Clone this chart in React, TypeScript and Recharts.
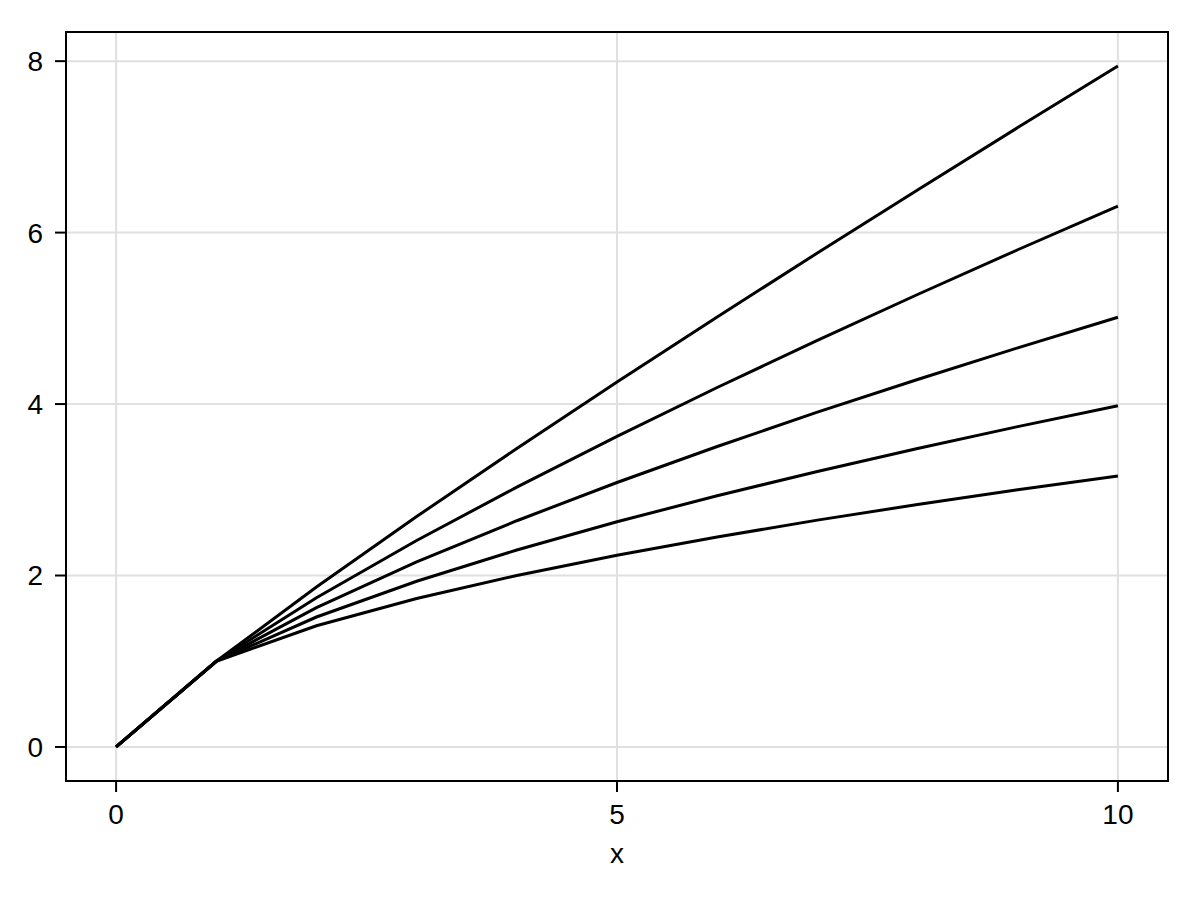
import React from 'react';
import { LineChart, Line, XAxis, YAxis, CartesianGrid } from 'recharts';

const xs = [0, 1, 2, 3, 4, 5, 6, 7, 8, 9, 10];
const curveA = [0, 1, 1.414, 1.732, 2.0, 2.236, 2.449, 2.646, 2.828, 3.0, 3.162];
const curveB = [0, 1, 1.516, 1.933, 2.297, 2.627, 2.93, 3.214, 3.482, 3.737, 3.981];
const curveC = [0, 1, 1.625, 2.158, 2.639, 3.085, 3.505, 3.905, 4.287, 4.656, 5.012];
const curveD = [0, 1, 1.741, 2.408, 3.031, 3.624, 4.193, 4.743, 5.278, 5.8, 6.31];
const curveE = [0, 1, 1.866, 2.688, 3.482, 4.257, 5.016, 5.762, 6.498, 7.225, 7.943];
const xTicks = [0, 5, 10];
const yTicks = [0, 2, 4, 6, 8];

const seriesKeys = ['a', 'b', 'c', 'd', 'e'];

const data = xs.map((x, i) => ({
  x,
  a: curveA[i],
  b: curveB[i],
  c: curveC[i],
  d: curveD[i],
  e: curveE[i],
}));

const FONT = '"Liberation Sans", Arial, sans-serif';
const TICK_SIZE = 11;
const TICK_GAP = 12;

// tick label plus its little outside tick mark
function XTick(props: any) {
  const { x, y, payload } = props;
  const top = y - TICK_GAP - TICK_SIZE;
  return (
    <g>
      <line x1={x} x2={x} y1={top} y2={top + TICK_SIZE} stroke="#000" strokeWidth={2} />
      <text x={x} y={y} dy="0.71em" textAnchor="middle" fontFamily={FONT} fontSize={28} fill="#000">
        {payload.value}
      </text>
    </g>
  );
}

function YTick(props: any) {
  const { x, y, payload } = props;
  const right = x + TICK_GAP + TICK_SIZE;
  return (
    <g>
      <line x1={right - TICK_SIZE} x2={right} y1={y} y2={y} stroke="#000" strokeWidth={2} />
      <text x={x} y={y} dy="0.355em" textAnchor="end" fontFamily={FONT} fontSize={28} fill="#000">
        {payload.value}
      </text>
    </g>
  );
}

export default function App() {
  return (
    <div style={{ position: 'absolute', left: 0, top: 0, width: 1200, height: 900, background: '#fff' }}>
      <LineChart width={1200} height={900} data={data} margin={{ top: 32, right: 32, left: 0, bottom: 0 }}>
        <CartesianGrid
          stroke="#e0e0e0"
          strokeWidth={2}
          horizontalValues={yTicks}
          verticalValues={xTicks}
        />
        <XAxis
          dataKey="x"
          type="number"
          domain={[-0.5, 10.5]}
          ticks={xTicks}
          height={119}
          stroke="#000"
          strokeWidth={2}
          tickSize={TICK_SIZE}
          tickMargin={TICK_GAP}
          tick={<XTick />}
          tickLine={false}
          axisLine
          label={{ value: 'x', position: 'insideBottom', offset: 37, style: { fontFamily: FONT, fontSize: 28, fill: '#000' } }}
        />
        <YAxis
          type="number"
          domain={[-0.397, 8.34]}
          ticks={yTicks}
          width={66}
          stroke="#000"
          strokeWidth={2}
          tickSize={TICK_SIZE}
          tickMargin={TICK_GAP}
          tick={<YTick />}
          tickLine={false}
          axisLine
        />
        {seriesKeys.map((k) => (
          <Line key={k} dataKey={k} stroke="#000" strokeWidth={3} dot={false} isAnimationActive={false} type="linear" />
        ))}
      </LineChart>
      {/* frame around the plot area (top/right spines) */}
      <div
        style={{
          position: 'absolute',
          left: 65,
          top: 31,
          width: 1104,
          height: 751,
          boxSizing: 'border-box',
          border: '2px solid #000',
          pointerEvents: 'none',
        }}
      />
    </div>
  );
}
